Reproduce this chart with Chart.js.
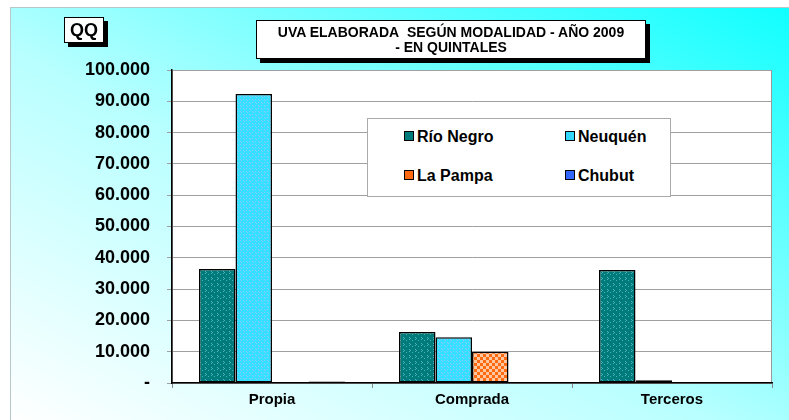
<!DOCTYPE html>
<html>
<head>
<meta charset="utf-8">
<script src="https://cdn.jsdelivr.net/npm/chart.js@4.4.0/dist/chart.umd.min.js"></script>
<style>
  html, body { margin: 0; padding: 0; background: #fff; }
  body { width: 789px; height: 420px; position: relative; overflow: hidden;
         font-family: "Liberation Sans", Arial, sans-serif; }
  #bg { position: absolute; left: 10px; top: 7px; width: 779px; height: 413px;
        border-left: 1px solid #b8c8c8; border-top: 1px solid #b8c8c8;
        background: linear-gradient(to top right, #ffffff 0%, #b8ffff 45%, #10ffff 100%); }
  #wrap { position: absolute; left: 0; top: 0; width: 789px; height: 420px; }
  .box { position: absolute; background: #fff; border: 1px solid #000;
         box-shadow: 4px 4px 0 #000; font-weight: bold; color: #000; text-align: center; }
  #qq { left: 64px; top: 17px; width: 38px; height: 24px; font-size: 18px; line-height: 24px; }
  #title { left: 256px; top: 20px; width: 390px; height: 39px; font-size: 14px; line-height: 15px;
           padding-top: 4px; box-sizing: border-box; }
  #legend { position: absolute; left: 367px; top: 118px; width: 302px; height: 77px;
            background: #fff; border: 1px solid #aaa; }
  .item { position: absolute; font-weight: bold; font-size: 16px; line-height: 18px; white-space: nowrap; }
  .item span.sw { display: inline-block; width: 8px; height: 8px; border: 1px solid #000;
                  margin-right: 3px; vertical-align: 1px; }
</style>
</head>
<body>
<div id="bg"></div>
<div id="wrap"><canvas id="barChart" width="789" height="420"></canvas></div>
<div id="qq" class="box">QQ</div>
<div id="title" class="box">UVA ELABORADA&nbsp; SEGÚN MODALIDAD - AÑO 2009<br>- EN QUINTALES</div>
<div id="legend"></div>
<script>
( function () {
	"use strict";

	// data
	var categories = ["Propia", "Comprada", "Terceros"];
	var seriesNames = ["Río Negro", "Neuquén", "La Pampa", "Chubut"];
	var rioNegro = [36400, 16300, 36100];
	var neuquen = [92300, 14600, 900];
	var laPampa = [0, 10000, 0];
	var chubut = [500, 0, 0];
	var yTicks = [0, 10000, 20000, 30000, 40000, 50000, 60000, 70000, 80000, 90000, 100000];

	// small fill patterns like the excel ones
	function makePattern(base, dot, cells) {
		var c = document.createElement("canvas");
		c.width = 6; c.height = 6;
		var g = c.getContext("2d");
		g.fillStyle = base;
		g.fillRect(0, 0, 6, 6);
		g.fillStyle = dot;
		cells.forEach(function (p) { g.fillRect(p[0], p[1], p[2] || 1, p[3] || 1); });
		return g.createPattern(c, "repeat");
	}
	var ctx = document.getElementById("barChart");
	var c2d = ctx.getContext("2d");
	var solid = ["#007b7b", "#33d6ff", "#ff6a10", "#3366ff"];
	var fills = [
		makePattern("#007b7b", "#4fb0b8", [[1, 1], [2, 2], [1, 3], [4, 4]]),
		makePattern("#33e0ff", "#8fc8ff", [[0, 0], [3, 0], [0, 3], [3, 3], [1, 4], [4, 1]]),
		makePattern("#ff6a10", "#ffc8a0", [[0, 0, 3, 3], [3, 3, 3, 3]]),
		"#3366ff"
	];

	// legend
	var leg = document.getElementById("legend");
	var pos = [[36, 9], [197, 9], [36, 48], [197, 48]];
	seriesNames.forEach(function (n, i) {
		var d = document.createElement("div");
		d.className = "item";
		d.style.left = pos[i][0] + "px";
		d.style.top = pos[i][1] + "px";
		d.innerHTML = '<span class="sw" style="background:' + solid[i] + '"></span>' + n;
		leg.appendChild(d);
	});

	var plotBg = {
		id: "plotBg",
		beforeDraw: function (chart) {
			var a = chart.chartArea, g = chart.ctx;
			g.save();
			g.fillStyle = "#fff";
			g.fillRect(a.left, a.top, a.right - a.left, a.bottom - a.top);
			g.strokeStyle = "#999";
			g.lineWidth = 1;
			g.strokeRect(a.left + 0.5, a.top + 0.5, a.right - a.left - 1, a.bottom - a.top);
			g.restore();
		}
	};

	var allData = [rioNegro, neuquen, laPampa, chubut];
	var myChart = new Chart(ctx, {
		type: "bar",
		data: {
			labels: categories,
			datasets: seriesNames.map(function (n, i) {
				return {
					label: n,
					data: allData[i],
					backgroundColor: fills[i],
					borderColor: "#000",
					borderWidth: 1.5,
					borderSkipped: false,
					categoryPercentage: 0.73,
					barPercentage: 1
				};
			})
		},
		options: {
			responsive: false,
			animation: false,
			layout: { padding: { top: 70, right: 17, left: 0, bottom: 0 } },
			plugins: { legend: { display: false }, tooltip: { enabled: false } },
			scales: {
				x: {
					grid: { drawOnChartArea: false, drawTicks: true, tickLength: 5, color: "#888" },
					border: { color: "#000", width: 1.5 },
					ticks: { color: "#000", padding: 3, font: { family: "Liberation Sans", size: 15, weight: "bold" } },
					afterFit: function (s) { s.height = 37; }
				},
				y: {
					min: 0,
					max: 100000,
					afterBuildTicks: function (s) { s.ticks = yTicks.map(function (v) { return { value: v }; }); },
					grid: { color: "#a0a0a0", tickLength: 5, lineWidth: 1 },
					border: { color: "#000", width: 1.5 },
					ticks: {
						color: "#000",
						padding: 17,
						font: { family: "Liberation Sans", size: 18, weight: "bold" },
						callback: function (v) {
							if (v === 0) return "-";
							return String(v).replace(/\B(?=(\d{3})+(?!\d))/g, ".");
						}
					},
					afterFit: function (s) { s.width = 172; }
				}
			}
		},
		plugins: [plotBg]
	});
} )();
</script>
</body>
</html>
